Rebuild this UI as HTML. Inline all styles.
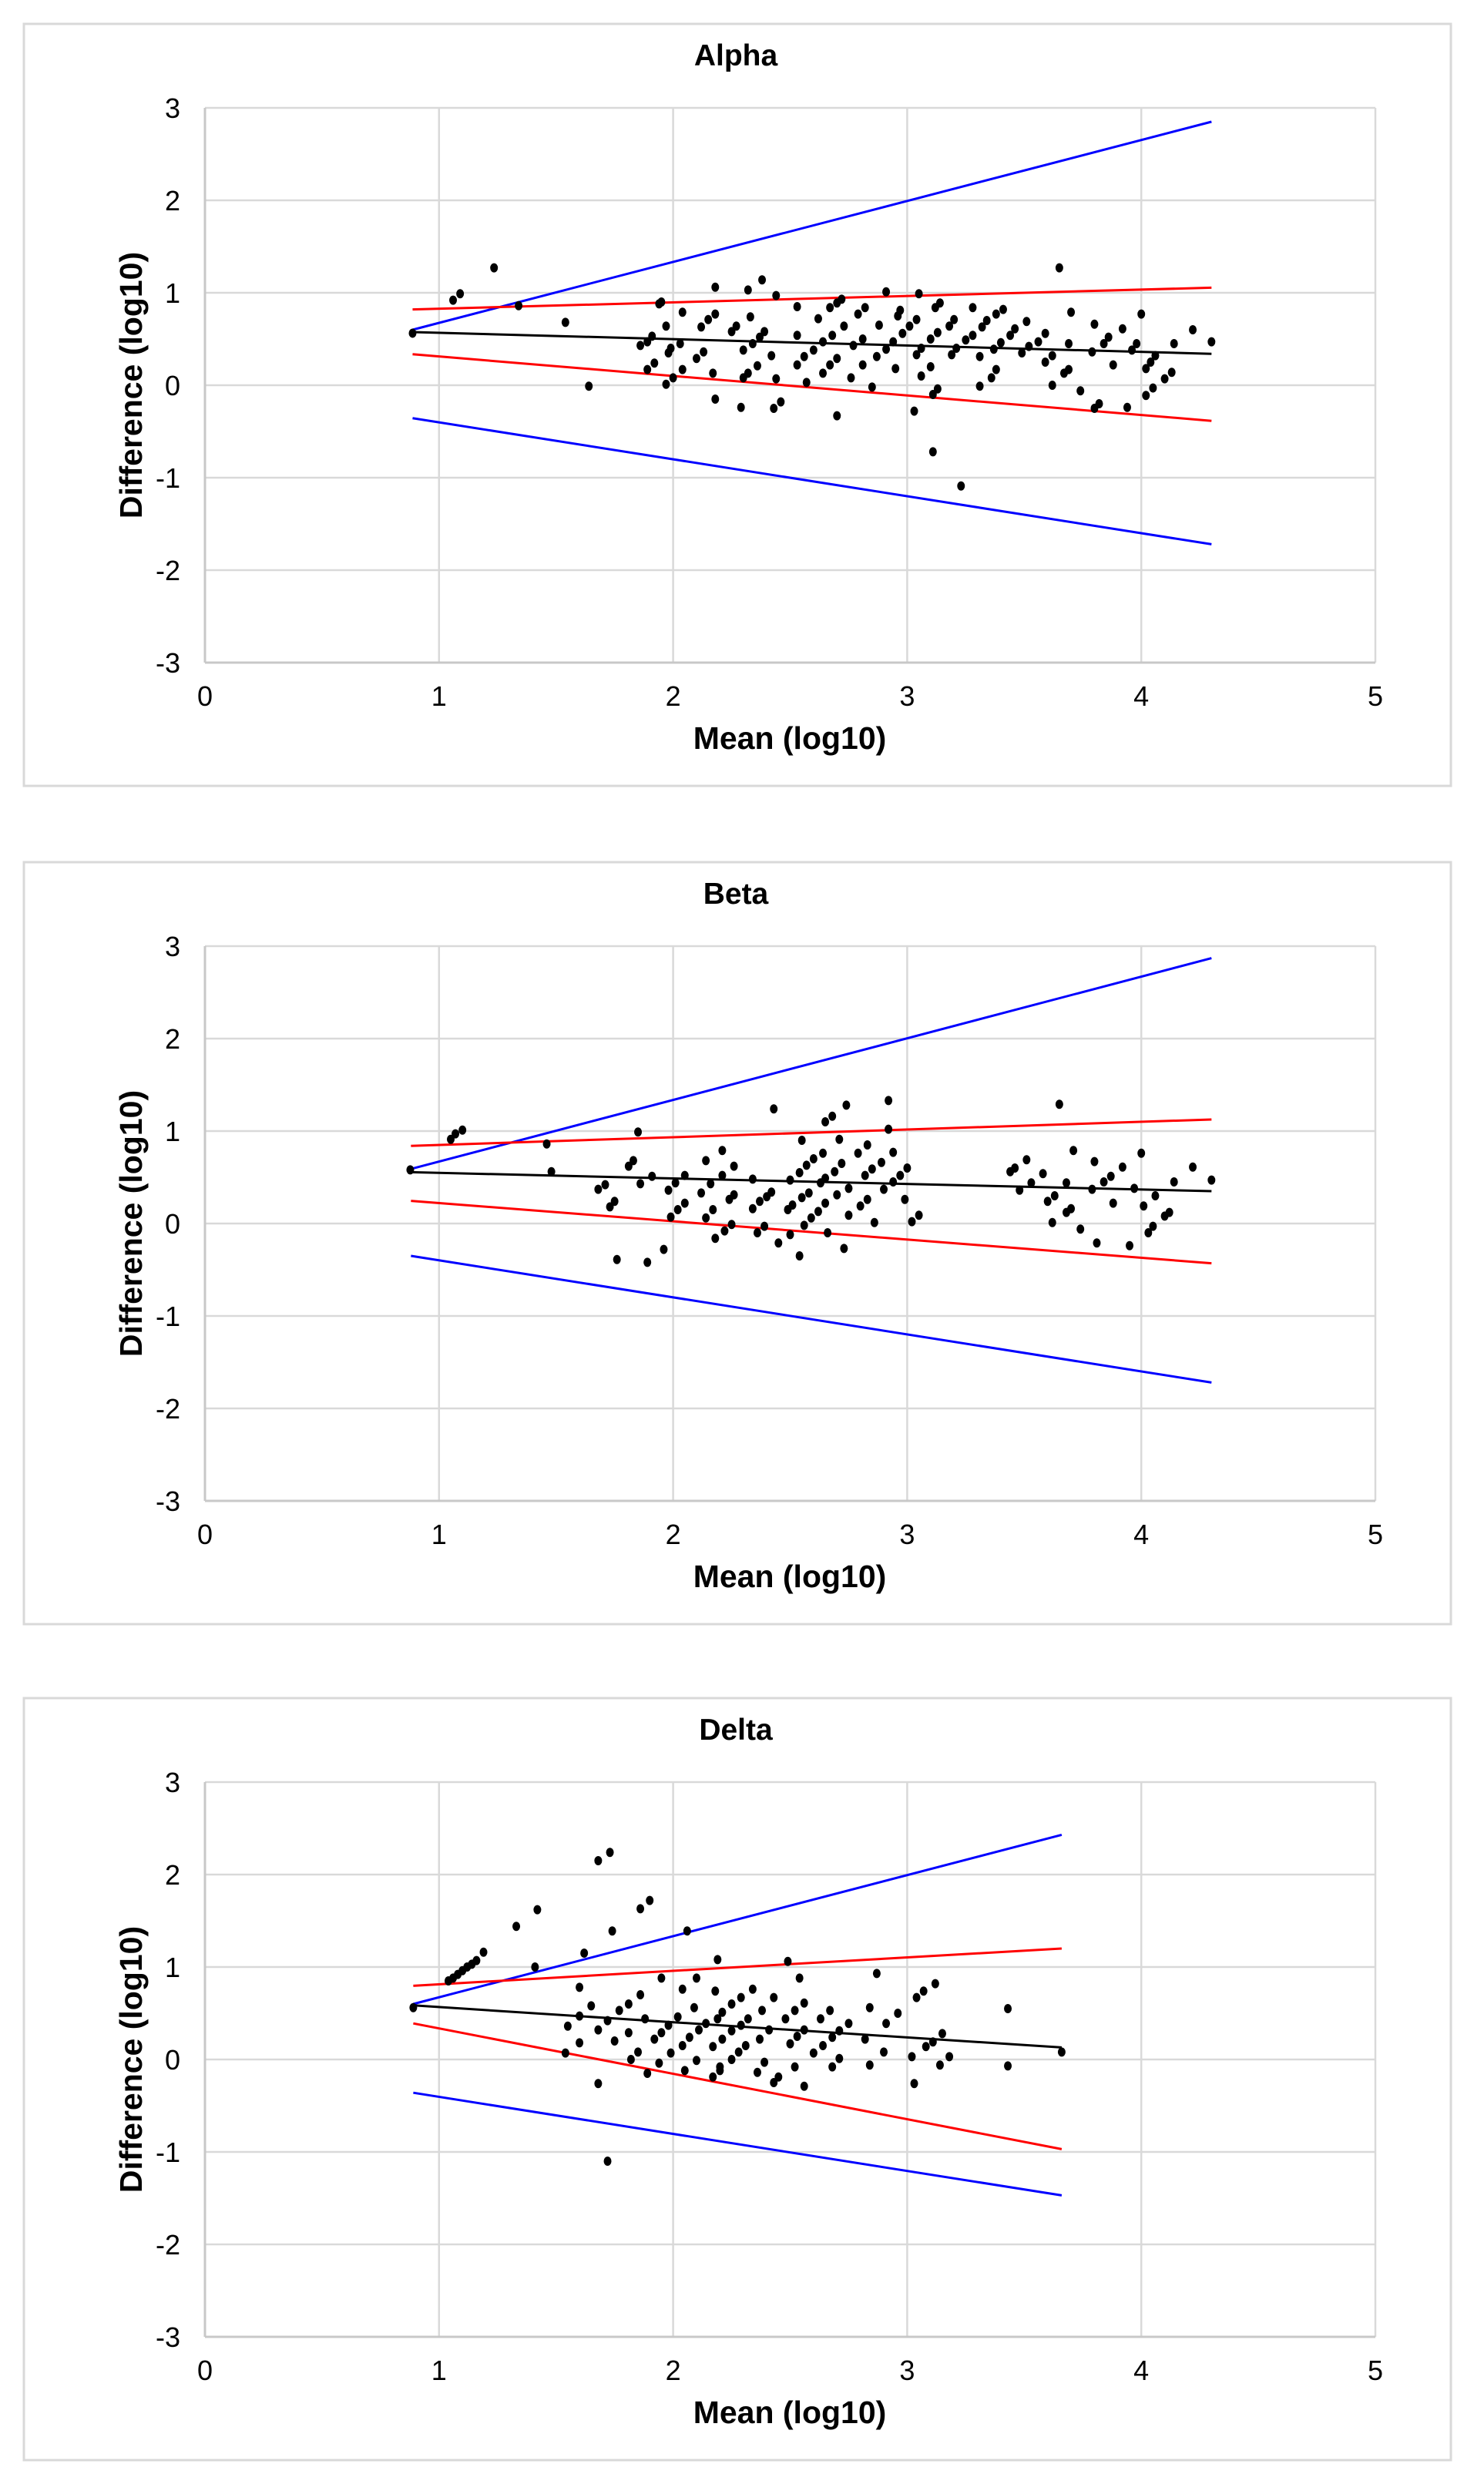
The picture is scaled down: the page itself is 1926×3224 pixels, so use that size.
<!DOCTYPE html>
<html><head><meta charset="utf-8"><style>
html,body{margin:0;padding:0;background:#fff;}
svg{display:block;font-family:"Liberation Sans",Arial,sans-serif;}
</style></head><body>
<svg id="chart" width="1926" height="3224" viewBox="0 0 1926 3224" xmlns="http://www.w3.org/2000/svg"></svg>
<script>
// ---- data ----
const panelTitles = ["Alpha", "Beta", "Delta"];
const xTicks = [0, 1, 2, 3, 4, 5];
const yTicks = [3, 2, 1, 0, -1, -2, -3];
const xAxisTitle = "Mean (log10)";
const yAxisTitle = "Difference (log10)";

const alphaX = [0.887,1.06,1.09,1.235,1.34,1.54,1.64,1.86,1.89,1.91,1.89,1.92,1.94,1.95,1.97,1.97,1.98,1.99,2.0,2.03,2.04,2.04,2.1,2.13,2.12,2.15,2.18,2.17,2.18,2.18,2.25,2.27,2.3,2.29,2.3,2.32,2.32,2.33,2.34,2.38,2.37,2.39,2.36,2.42,2.44,2.44,2.43,2.46,2.53,2.53,2.53,2.56,2.57,2.6,2.64,2.62,2.64,2.67,2.7,2.68,2.67,2.7,2.72,2.7,2.73,2.76,2.77,2.79,2.82,2.81,2.81,2.85,2.88,2.87,2.91,2.94,2.91,2.96,2.97,2.95,2.98,3.01,3.04,3.03,3.04,3.06,3.1,3.13,3.05,3.06,3.1,3.11,3.13,3.11,3.12,3.14,3.18,3.2,3.19,3.21,3.25,3.23,3.28,3.28,3.32,3.34,3.38,3.41,3.31,3.31,3.36,3.38,3.37,3.4,3.44,3.46,3.49,3.52,3.51,3.56,3.59,3.59,3.62,3.62,3.65,3.67,3.69,3.69,3.7,3.74,3.79,3.8,3.8,3.82,3.84,3.86,3.88,3.92,3.94,3.96,3.98,4.0,4.02,4.02,4.05,4.04,4.06,4.1,4.13,4.14,4.22,4.3];
const alphaY = [0.563,0.92,0.99,1.27,0.86,0.68,-0.01,0.43,0.47,0.53,0.17,0.24,0.88,0.9,0.01,0.64,0.35,0.4,0.08,0.45,0.17,0.79,0.29,0.36,0.63,0.71,0.77,0.13,1.06,-0.15,0.58,0.64,0.38,-0.24,0.08,0.13,1.03,0.74,0.45,1.14,0.52,0.58,0.21,0.32,0.97,0.07,-0.25,-0.18,0.85,0.54,0.22,0.31,0.03,0.38,0.47,0.72,0.13,0.22,0.29,0.54,0.84,0.89,0.93,-0.33,0.64,0.08,0.43,0.77,0.84,0.22,0.5,-0.02,0.65,0.31,0.39,0.47,1.01,0.75,0.81,0.18,0.56,0.64,0.71,-0.28,0.33,0.4,0.5,0.57,0.99,0.1,0.2,-0.1,-0.04,-0.72,0.84,0.89,0.64,0.71,0.33,0.4,0.49,-1.09,0.84,0.54,0.63,0.7,0.77,0.82,0.31,-0.01,0.08,0.17,0.39,0.46,0.54,0.61,0.35,0.42,0.69,0.47,0.56,0.25,0.32,0.0,1.27,0.13,0.17,0.45,0.79,-0.06,0.36,0.66,-0.25,-0.2,0.45,0.52,0.22,0.61,-0.24,0.38,0.45,0.77,0.18,-0.11,-0.03,0.25,0.32,0.07,0.14,0.45,0.6,0.47];

const betaX = [0.877,1.05,1.07,1.1,1.46,1.48,1.68,1.71,1.73,1.75,1.76,1.81,1.83,1.85,1.86,1.89,1.91,1.96,1.98,2.01,2.05,1.99,2.02,2.05,2.14,2.12,2.16,2.21,2.14,2.17,2.18,2.21,2.22,2.25,2.26,2.24,2.26,2.34,2.37,2.34,2.36,2.39,2.4,2.42,2.43,2.45,2.5,2.49,2.51,2.5,2.54,2.57,2.6,2.54,2.55,2.55,2.56,2.59,2.62,2.65,2.7,2.58,2.63,2.65,2.69,2.72,2.64,2.66,2.65,2.68,2.71,2.74,2.73,2.75,2.75,2.8,2.83,2.79,2.83,2.82,2.85,2.89,2.86,2.9,2.94,2.97,3.0,2.92,2.92,2.94,2.99,3.02,3.05,3.44,3.46,3.51,3.48,3.53,3.58,3.6,3.63,3.62,3.65,3.68,3.7,3.68,3.71,3.74,3.79,3.84,3.87,3.8,3.81,3.88,3.92,3.95,3.97,4.0,4.01,4.06,4.03,4.05,4.1,4.12,4.14,4.22,4.3];
const betaY = [0.58,0.91,0.97,1.01,0.86,0.56,0.37,0.42,0.18,0.24,-0.39,0.62,0.68,0.99,0.43,-0.42,0.51,-0.28,0.36,0.44,0.52,0.07,0.15,0.22,0.68,0.33,0.43,0.52,0.06,0.15,-0.16,0.79,-0.08,-0.01,0.62,0.26,0.31,0.16,0.24,0.48,-0.1,-0.03,0.29,0.34,1.24,-0.21,-0.12,0.15,0.2,0.47,0.55,0.63,0.7,-0.35,0.28,0.9,-0.02,0.06,0.13,0.22,0.31,0.33,0.44,0.49,0.56,0.65,0.76,-0.1,1.1,1.16,0.91,1.28,-0.27,0.38,0.09,0.19,0.26,0.76,0.85,0.52,0.59,0.66,0.01,0.37,0.45,0.52,0.6,1.33,1.02,0.77,0.26,0.02,0.09,0.56,0.6,0.69,0.36,0.44,0.54,0.24,0.3,0.01,1.29,0.12,0.16,0.44,0.79,-0.06,0.37,0.45,0.51,0.67,-0.21,0.22,0.61,-0.24,0.38,0.76,0.19,0.3,-0.1,-0.03,0.08,0.12,0.45,0.61,0.47];

const deltaX = [0.89,1.04,1.06,1.08,1.1,1.12,1.14,1.16,1.19,1.33,1.41,1.42,1.54,1.55,1.6,1.6,1.6,1.62,1.65,1.68,1.68,1.68,1.73,1.72,1.74,1.75,1.77,1.81,1.81,1.82,1.85,1.86,1.86,1.9,1.88,1.89,1.92,1.95,1.98,2.02,1.94,1.95,1.99,2.04,2.07,2.11,2.14,2.04,2.05,2.06,2.09,2.1,2.1,2.17,2.2,2.17,2.21,2.25,2.18,2.19,2.21,2.19,2.2,2.25,2.28,2.31,2.25,2.29,2.34,2.29,2.32,2.36,2.39,2.37,2.41,2.38,2.43,2.43,2.45,2.48,2.52,2.5,2.53,2.56,2.49,2.52,2.54,2.56,2.56,2.6,2.64,2.68,2.71,2.63,2.67,2.68,2.71,2.75,2.82,2.84,2.84,2.87,2.9,2.91,2.96,3.02,3.03,3.04,3.07,3.12,3.08,3.11,3.14,3.18,3.15,3.43,3.43,3.66,1.72];
const deltaY = [0.56,0.85,0.88,0.92,0.96,1.0,1.03,1.07,1.16,1.44,1.0,1.62,0.07,0.36,0.18,0.47,0.78,1.15,0.58,0.32,-0.26,2.15,2.24,0.42,1.39,0.2,0.53,0.6,0.29,0.0,0.08,0.7,1.63,1.72,0.44,-0.15,0.22,0.29,0.37,0.46,-0.04,0.88,0.07,0.15,0.24,0.32,0.39,0.76,-0.12,1.39,0.56,0.88,-0.01,-0.19,-0.12,0.14,0.22,0.31,0.74,0.44,0.51,1.08,-0.08,0.0,0.08,0.15,0.6,0.67,0.76,0.37,0.44,-0.14,-0.03,0.22,0.32,0.53,0.67,-0.25,-0.19,0.44,0.53,0.17,0.25,0.32,1.06,-0.08,0.88,0.61,-0.29,0.07,0.15,0.24,0.31,0.44,0.53,-0.08,0.01,0.39,0.22,-0.06,0.56,0.93,0.08,0.39,0.5,0.03,-0.26,0.67,0.74,0.82,0.14,0.19,-0.06,0.03,0.28,0.55,-0.07,0.08,-1.1];

// regression / limit lines: [x0, x1, y0, y1]
const alphaMean = [0.887, 4.3, 0.575, 0.34];
const alphaRedUp = [0.887, 4.3, 0.82, 1.055];
const alphaRedLo = [0.887, 4.3, 0.335, -0.385];
const alphaBlueUp = [0.887, 4.3, 0.6, 2.85];
const alphaBlueLo = [0.887, 4.3, -0.356, -1.72];

const betaMean = [0.88, 4.3, 0.555, 0.35];
const betaRedUp = [0.88, 4.3, 0.84, 1.125];
const betaRedLo = [0.88, 4.3, 0.245, -0.43];
const betaBlueUp = [0.88, 4.3, 0.59, 2.87];
const betaBlueLo = [0.88, 4.3, -0.35, -1.72];

const deltaMean = [0.89, 3.66, 0.585, 0.13];
const deltaRedUp = [0.89, 3.66, 0.797, 1.2];
const deltaRedLo = [0.89, 3.66, 0.39, -0.97];
const deltaBlueUp = [0.89, 3.66, 0.6, 2.43];
const deltaBlueLo = [0.89, 3.66, -0.36, -1.47];

const panelOffsets = [0, 1088, 2173];
const seriesX = [alphaX, betaX, deltaX];
const seriesY = [alphaY, betaY, deltaY];
const meanLines = [alphaMean, betaMean, deltaMean];
const redUpLines = [alphaRedUp, betaRedUp, deltaRedUp];
const redLoLines = [alphaRedLo, betaRedLo, deltaRedLo];
const blueUpLines = [alphaBlueUp, betaBlueUp, deltaBlueUp];
const blueLoLines = [alphaBlueLo, betaBlueLo, deltaBlueLo];

const NS = "http://www.w3.org/2000/svg";
const svg = document.getElementById("chart");
function mk(tag, attrs, parent) {
  const e = document.createElementNS(NS, tag);
  for (const k in attrs) e.setAttribute(k, attrs[k]);
  (parent || svg).appendChild(e);
  return e;
}
const L = 266, R = 1785, X0 = 0, X1 = 5, Y0 = -3, Y1 = 3;

panelTitles.forEach(function (title, p) {
  const off = panelOffsets[p];
  const T = 140 + off, B = 860 + off;
  const xs = v => L + (v - X0) / (X1 - X0) * (R - L);
  const ys = v => B - (v - Y0) / (Y1 - Y0) * (B - T);
  const g = mk("g", {});
  
  

  const frame = mk("rect", {x: 31, y: 31 + off, width: 1852, height: 989, fill: "#fff", stroke: "#d9d9d9", "stroke-width": 3}, g);
  
  

  const tt = mk("text", {x: 955, y: 85 + off, "text-anchor": "middle", "font-size": 39, "font-weight": "bold", fill: "#000"}, g);
  tt.textContent = title;
  
  

  yTicks.forEach(function (t) {
    const gl = mk("line", {x1: L, x2: R, y1: ys(t), y2: ys(t), stroke: "#d9d9d9", "stroke-width": 2.5}, g);
    
    
    const lb = mk("text", {x: 234, y: ys(t) + 13, "text-anchor": "end", "font-size": 36, fill: "#000"}, g);
    lb.textContent = String(t);
    
    
  });
  xTicks.forEach(function (t) {
    const gl = mk("line", {x1: xs(t), x2: xs(t), y1: T, y2: B, stroke: "#d9d9d9", "stroke-width": 2.5}, g);
    
    
    const lb = mk("text", {x: xs(t), y: 916 + off, "text-anchor": "middle", "font-size": 36, fill: "#000"}, g);
    lb.textContent = String(t);
    
    
  });
  const ax = mk("line", {x1: L, x2: L, y1: T, y2: B, stroke: "#c8c8c8", "stroke-width": 3}, g);
  
  
  const bx = mk("line", {x1: L, x2: R, y1: B, y2: B, stroke: "#c8c8c8", "stroke-width": 3}, g);
  
  

  const xt = mk("text", {x: 1025, y: 972 + off, "text-anchor": "middle", "font-size": 41, "font-weight": "bold", fill: "#000"}, g);
  xt.textContent = xAxisTitle;
  
  
  const yt = mk("text", {x: 0, y: 0, "text-anchor": "middle", "font-size": 41, "font-weight": "bold", fill: "#000", transform: "translate(184," + (500 + off) + ") rotate(-90)"}, g);
  yt.textContent = yAxisTitle;
  
  

  function drawLine(d, color, name) {
    const ln = mk("line", {x1: xs(d[0]), x2: xs(d[1]), y1: ys(d[2]), y2: ys(d[3]), stroke: color, "stroke-width": 3}, g);
    
    
  }
  drawLine(blueUpLines[p], "#0000ff", "upper-outer-limit-line");
  drawLine(blueLoLines[p], "#0000ff", "lower-outer-limit-line");
  drawLine(redUpLines[p], "#ff0000", "upper-limit-line");
  drawLine(redLoLines[p], "#ff0000", "lower-limit-line");
  drawLine(meanLines[p], "#000000", "mean-difference-line");

  const X = seriesX[p], Y = seriesY[p];
  for (let i = 0; i < X.length; i++) {
    const pt = mk("ellipse", {cx: xs(X[i]), cy: ys(Y[i]), rx: 5, ry: 6, fill: "#000"}, g);
    
    
  }
});
</script>
</body></html>
